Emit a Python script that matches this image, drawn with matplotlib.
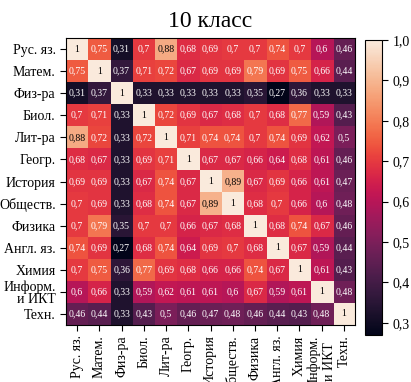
import numpy as np
import matplotlib
matplotlib.use("Agg")
import matplotlib.pyplot as plt
import seaborn as sns

plt.rcParams['font.family'] = ['Liberation Serif', 'DejaVu Serif']

subjects = ["Рус. яз.", "Матем.", "Физ-ра", "Биол.", "Лит-ра", "Геогр.", "История",
            "Обществ.", "Физика", "Англ. яз.", "Химия", "Информ.\nи ИКТ", "Техн."]

corr = np.array([
    [1, .75, .31, .7, .88, .68, .69, .7, .7, .74, .7, .6, .46],
    [.75, 1, .37, .71, .72, .67, .69, .69, .79, .69, .75, .66, .44],
    [.31, .37, 1, .33, .33, .33, .33, .33, .35, .27, .36, .33, .33],
    [.7, .71, .33, 1, .72, .69, .67, .68, .7, .68, .77, .59, .43],
    [.88, .72, .33, .72, 1, .71, .74, .74, .7, .74, .69, .62, .5],
    [.68, .67, .33, .69, .71, 1, .67, .67, .66, .64, .68, .61, .46],
    [.69, .69, .33, .67, .74, .67, 1, .89, .67, .69, .66, .61, .47],
    [.7, .69, .33, .68, .74, .67, .89, 1, .68, .7, .66, .6, .48],
    [.7, .79, .35, .7, .7, .66, .67, .68, 1, .68, .74, .67, .46],
    [.74, .69, .27, .68, .74, .64, .69, .7, .68, 1, .67, .59, .44],
    [.7, .75, .36, .77, .69, .68, .66, .66, .74, .67, 1, .61, .43],
    [.6, .66, .33, .59, .62, .61, .61, .6, .67, .59, .61, 1, .48],
    [.46, .44, .33, .43, .5, .46, .47, .48, .46, .44, .43, .48, 1],
])

cmap = sns.color_palette("rocket", as_cmap=True)

fig = plt.figure(figsize=(4.11, 3.82), dpi=100)
ax = fig.add_axes([66/411, 1 - 325/382, 289/411, 287/382])
cax = fig.add_axes([365/411, 1 - 335/382, 17/411, 295/382])

im = ax.imshow(corr, cmap=cmap, vmin=0.27, vmax=1.0, aspect='auto')

n = len(subjects)
for i in range(n):
    for j in range(n):
        v = corr[i, j]
        txt = "1" if v == 1 else ("%g" % v).replace(".", ",")
        color = "black" if v > 0.8 else "white"
        ax.text(j, i, txt, ha='center', va='center', fontsize=7, color=color)

ax.set_xticks(range(n))
ax.set_yticks(range(n))
ax.set_xticklabels(subjects, rotation=90, fontsize=10)
ax.set_yticklabels(subjects, fontsize=10, linespacing=0.95)
ax.tick_params(length=4, width=0.8)
ax.set_title("10 класс", fontsize=17, pad=8)

cb = fig.colorbar(im, cax=cax)
cb.set_ticks([0.3, 0.4, 0.5, 0.6, 0.7, 0.8, 0.9, 1.0])
cb.set_ticklabels(["0,3", "0,4", "0,5", "0,6", "0,7", "0,8", "0,9", "1,0"])
cb.ax.tick_params(labelsize=10, length=4, width=0.8)
cb.outline.set_linewidth(0.8)

fig.savefig("out.png", dpi=100)
